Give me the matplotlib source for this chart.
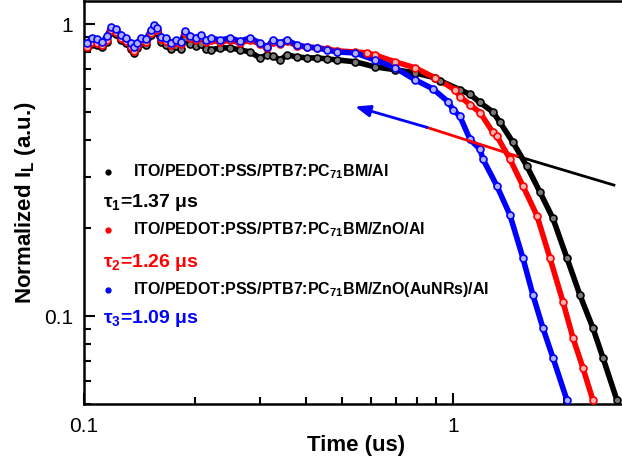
import matplotlib
matplotlib.use("Agg")
from matplotlib import pyplot as plt

# values (time in us, normalized intensity)
t_black = [0.1019, 0.1051, 0.1084, 0.1119, 0.1154, 0.1184, 0.1221, 0.1259, 0.1300, 0.1341,
           0.1366, 0.1392, 0.1427, 0.1472, 0.1519, 0.1548, 0.1577, 0.1617, 0.1668, 0.1721,
           0.1776, 0.1832, 0.1878, 0.1938, 0.2012, 0.2075, 0.2141, 0.2209, 0.2337, 0.2487,
           0.2647, 0.2818, 0.2999, 0.3133, 0.3253, 0.3398, 0.3549, 0.3778, 0.4021, 0.4280,
           0.4556, 0.4849, 0.5426, 0.6146, 0.6963, 0.7889, 0.8939, 0.9221, 1.0447, 1.1119,
           1.1835, 1.2834, 1.3408, 1.4540, 1.5866, 1.7209, 1.8664, 2.0371, 2.2090, 2.3954,
           2.5500, 2.7826]
i_black = [0.829, 0.855, 0.848, 0.835, 0.868, 0.940, 0.925, 0.882, 0.862, 0.822,
           0.797, 0.829, 0.862, 0.848, 0.917, 0.962, 0.940, 0.868, 0.848, 0.822,
           0.842, 0.822, 0.896, 0.855, 0.842, 0.855, 0.822, 0.816, 0.829, 0.829,
           0.816, 0.803, 0.766, 0.784, 0.778, 0.754, 0.784, 0.772, 0.766, 0.766,
           0.760, 0.754, 0.743, 0.714, 0.698, 0.681, 0.655, 0.640, 0.596, 0.575,
           0.539, 0.500, 0.461, 0.394, 0.326, 0.266, 0.216, 0.158, 0.118, 0.091,
           0.072, 0.0515]

t_red = [0.1019, 0.1051, 0.1084, 0.1119, 0.1154, 0.1184, 0.1221, 0.1259, 0.1300, 0.1341,
         0.1366, 0.1392, 0.1427, 0.1472, 0.1519, 0.1548, 0.1577, 0.1617, 0.1668, 0.1721,
         0.1776, 0.1832, 0.1878, 0.1938, 0.2012, 0.2075, 0.2141, 0.2209, 0.2337, 0.2487,
         0.2647, 0.2818, 0.2999, 0.3133, 0.3253, 0.3398, 0.3549, 0.3778, 0.4021, 0.4280,
         0.4556, 0.4849, 0.5426, 0.5847, 0.6146, 0.6963, 0.7889, 0.8939, 1.0125, 1.0447,
         1.1119, 1.1835, 1.2834, 1.3158, 1.4270, 1.5476, 1.6890, 1.8319, 1.9866, 2.1147,
         2.2506, 2.3954]
i_red = [0.835, 0.868, 0.862, 0.848, 0.882, 0.954, 0.940, 0.896, 0.875, 0.835,
         0.810, 0.842, 0.875, 0.868, 0.932, 0.977, 0.954, 0.889, 0.875, 0.848,
         0.868, 0.855, 0.932, 0.896, 0.882, 0.903, 0.868, 0.882, 0.868, 0.882,
         0.862, 0.882, 0.855, 0.829, 0.868, 0.855, 0.875, 0.842, 0.835, 0.829,
         0.822, 0.810, 0.803, 0.797, 0.784, 0.743, 0.709, 0.655, 0.596, 0.565,
         0.530, 0.498, 0.426, 0.413, 0.345, 0.279, 0.221, 0.158, 0.112, 0.0842,
         0.0664, 0.0515]

t_blue = [0.1019, 0.1051, 0.1084, 0.1119, 0.1154, 0.1184, 0.1221, 0.1259, 0.1300, 0.1341,
          0.1366, 0.1392, 0.1427, 0.1472, 0.1519, 0.1548, 0.1577, 0.1617, 0.1668, 0.1721,
          0.1776, 0.1832, 0.1878, 0.1938, 0.2012, 0.2075, 0.2141, 0.2209, 0.2337, 0.2487,
          0.2647, 0.2818, 0.2999, 0.3133, 0.3253, 0.3398, 0.3549, 0.3778, 0.4021, 0.4280,
          0.4556, 0.4849, 0.5426, 0.6146, 0.6963, 0.7889, 0.8829, 0.9692, 1.0000, 1.0447,
          1.1119, 1.1835, 1.2058, 1.3158, 1.4270, 1.5476, 1.6473, 1.7535, 1.8664, 2.0371]
i_blue = [0.862, 0.896, 0.889, 0.868, 0.910, 0.977, 0.962, 0.917, 0.896, 0.862,
          0.835, 0.862, 0.896, 0.889, 0.954, 0.992, 0.969, 0.903, 0.896, 0.862,
          0.882, 0.868, 0.947, 0.910, 0.896, 0.917, 0.882, 0.896, 0.882, 0.896,
          0.875, 0.896, 0.862, 0.835, 0.882, 0.862, 0.882, 0.848, 0.835, 0.829,
          0.816, 0.803, 0.797, 0.754, 0.709, 0.645, 0.600, 0.543, 0.510, 0.483,
          0.403, 0.373, 0.345, 0.279, 0.222, 0.158, 0.118, 0.091, 0.072, 0.0515]

labels = ["ITO/PEDOT:PSS/PTB7:PC$_{\\mathbf{71}}$BM/Al",
          "ITO/PEDOT:PSS/PTB7:PC$_{\\mathbf{71}}$BM/ZnO/Al",
          "ITO/PEDOT:PSS/PTB7:PC$_{\\mathbf{71}}$BM/ZnO(AuNRs)/Al"]
taus = ["1.37", "1.26", "1.09"]

# arrow across the curves (data coords)
arrow_t = [2.73, 1.491, 0.850, 0.543]
arrow_i = [0.281, 0.353, 0.443, 0.522]

plt.rcParams["font.family"] = ["Liberation Sans", "DejaVu Sans"]
plt.rcParams["mathtext.fontset"] = "custom"
plt.rcParams["mathtext.rm"] = "Liberation Sans:bold"
plt.rcParams["mathtext.bf"] = "Liberation Sans:bold"

fig = plt.figure(figsize=(6.22, 4.58), dpi=100)
ax = fig.add_axes([84 / 622, 54 / 458, 545 / 622, 403 / 458])

series = [(t_black, i_black, "black", "#777777"),
          (t_red, i_red, "#ff0000", "#ffb0b0"),
          (t_blue, i_blue, "#0000ff", "#b0b0ff")]
for t, y, c, fc in series:
    ax.plot(t, y, "-", color=c, lw=4, zorder=2)
    ax.plot(t, y, "o", ms=5, mec=c, mfc=fc, mew=1.2, zorder=3)

ax.plot(arrow_t[:2], arrow_i[:2], color="black", lw=2, zorder=4)
ax.plot(arrow_t[1:3], arrow_i[1:3], color="#ff0000", lw=2, zorder=4)
ax.annotate("", xy=(arrow_t[3], arrow_i[3]), xytext=(arrow_t[2], arrow_i[2]),
            arrowprops=dict(arrowstyle="-|>,head_length=0.9,head_width=0.35",
                            color="#0000ff", lw=2, shrinkA=0, shrinkB=0), zorder=4)

ax.set_xscale("log")
ax.set_yscale("log")
ax.set_xlim(0.1, 3)
ax.set_ylim(0.05, 1.2)
ax.set_xticks([0.1, 1])
ax.set_xticklabels(["0.1", "1"])
ax.set_yticks([0.1, 1])
ax.set_yticklabels(["0.1", "1"])
ax.tick_params(which="both", direction="in", labelsize=15, width=1.5)
ax.tick_params(which="major", length=8)
ax.tick_params(axis="x", which="major", pad=9)
ax.tick_params(axis="y", which="major", pad=8)
ax.tick_params(which="minor", length=5)
ax.tick_params(axis="y", which="both", right=False)
ax.tick_params(axis="x", which="both", top=False)
for s in ax.spines.values():
    s.set_linewidth(1.8)
ax.spines["right"].set_visible(False)

ax.set_xlabel("Time (us)", fontsize=16, fontweight="bold", labelpad=0)
ax.set_ylabel("Normalized I$_{\\mathbf{L}}$ (a.u.)", fontsize=16, fontweight="bold", labelpad=4)

colors = ["black", "#ff0000", "#0000ff"]
rows = [0.576, 0.432, 0.283]
tau_rows = [0.501, 0.352, 0.211]
for k in range(3):
    ax.plot([0.044], [rows[k]], "o", ms=3.5, color=colors[k], transform=ax.transAxes, clip_on=False)
    ax.text(0.090, rows[k], labels[k], transform=ax.transAxes, fontsize=11.5,
            fontweight="bold", va="center", ha="left")
    ax.text(0.035, tau_rows[k], "\u03c4$_{\\mathbf{%d}}$=%s \u03bcs" % (k + 1, taus[k]),
            transform=ax.transAxes, fontsize=14, fontweight="bold", color=colors[k],
            va="center", ha="left")

fig.savefig("out.png", dpi=100)
